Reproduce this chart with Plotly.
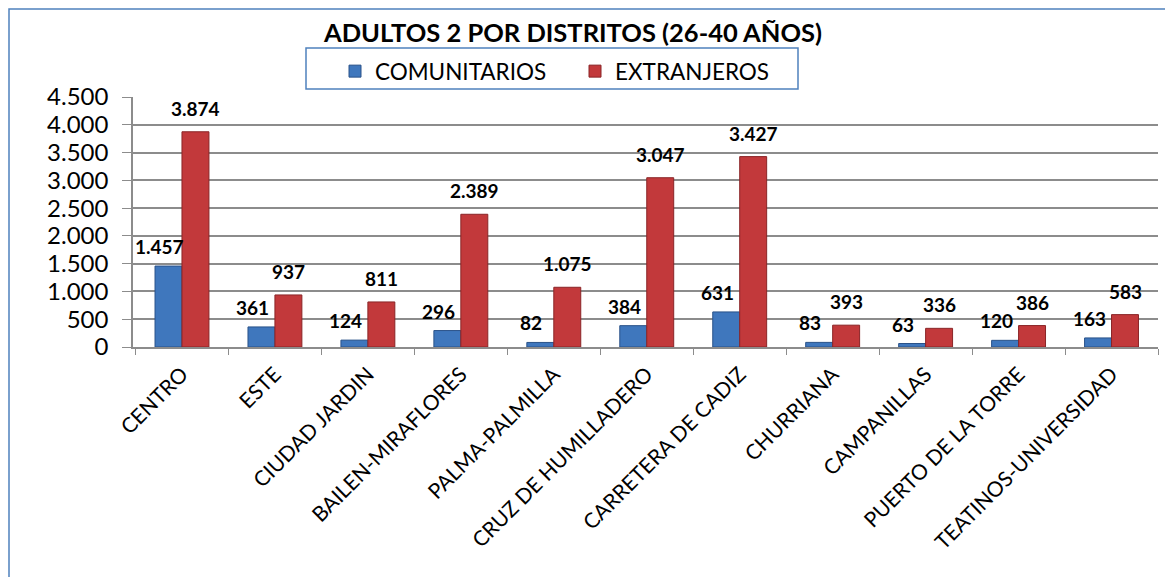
import plotly.graph_objects as go

districts = ["CENTRO", "ESTE", "CIUDAD JARDIN", "BAILEN-MIRAFLORES", "PALMA-PALMILLA",
             "CRUZ DE HUMILLADERO", "CARRETERA DE CADIZ", "CHURRIANA", "CAMPANILLAS",
             "PUERTO DE LA TORRE", "TEATINOS-UNIVERSIDAD"]
comunitarios = [1457, 361, 124, 296, 82, 384, 631, 83, 63, 120, 163]
extranjeros = [3874, 937, 811, 2389, 1075, 3047, 3427, 393, 336, 386, 583]
y_ticks = [0, 500, 1000, 1500, 2000, 2500, 3000, 3500, 4000, 4500]

FONT = "Lato"
BLUE = "#3f77bd"
RED = "#c2393b"
FRAME = "#4f81bd"

def fmt(v):
    return f"{v:,}".replace(",", ".")

fig = go.Figure()
fig.add_trace(go.Bar(x=districts, y=comunitarios, name="COMUNITARIOS",
                     marker=dict(color=BLUE, line=dict(color="#2a5289", width=1))))
fig.add_trace(go.Bar(x=districts, y=extranjeros, name="EXTRANJEROS",
                     marker=dict(color=RED, line=dict(color="#8a2527", width=1))))

W_BAR = 0.29
annotations = []
for i, (c, e) in enumerate(zip(comunitarios, extranjeros)):
    annotations.append(dict(x=i - W_BAR / 2, y=c, xref="x", yref="y", text=fmt(c),
                            showarrow=False, yanchor="bottom", yshift=6, xshift=-9,
                            font=dict(family=FONT, size=19, color="black", weight="bold")))
    annotations.append(dict(x=i + W_BAR / 2, y=e, xref="x", yref="y", text=fmt(e),
                            showarrow=False, yanchor="bottom", yshift=10,
                            font=dict(family=FONT, size=19, color="black", weight="bold")))

# page has an 8px body margin; work in screen pixels and convert
OFF = 8
FW, FH = 1173, 577
SL, SR, ST, SB = 133, 1158, 97, 347          # screen px of plot area
L, R, T, B = SL - OFF, FW - (SR - OFF), ST - OFF, FH - (SB - OFF)
PW, PH = FW - L - R, FH - T - B

def px_x(p):
    return (p - OFF - L) / PW

def px_y(p):
    return (FH - B - (p - OFF)) / PH

fig.update_layout(
    width=FW, height=FH,
    margin=dict(l=L, r=R, t=T, b=B, autoexpand=False),
    paper_bgcolor="white", plot_bgcolor="white",
    separators=",.",
    barmode="group", bargap=0.42, bargroupgap=0,
    font=dict(family=FONT, color="black"),
    title=dict(text="<b>ADULTOS 2 POR DISTRITOS (26-40 AÑOS)</b>",
               x=(573 - OFF) / FW, xref="container", xanchor="center",
               y=1 - (33 - OFF) / FH, yref="container", yanchor="middle",
               font=dict(family=FONT, size=25.5, color="black")),
    legend=dict(orientation="h", x=px_x(335), xanchor="left", y=px_y(50), yanchor="top",
                borderwidth=0, bgcolor="rgba(0,0,0,0)",
                font=dict(family=FONT, size=22.5, color="black"),
                entrywidth=195, itemwidth=30),
    annotations=annotations,
    shapes=[
        dict(type="rect", xref="paper", yref="paper",
             x0=px_x(OFF + 1), x1=px_x(1220), y0=px_y(620), y1=px_y(OFF + 1),
             line=dict(color=FRAME, width=1.5), layer="below"),
        dict(type="rect", xref="paper", yref="paper",
             x0=px_x(306), x1=px_x(798), y0=px_y(89), y1=px_y(48),
             line=dict(color=FRAME, width=1.5), layer="above"),
    ],
)
fig.update_yaxes(range=[0, 4500], tickvals=y_ticks, tickformat=",d", automargin=False,
                 showgrid=True, gridcolor="#8c8c8c", gridwidth=1.5,
                 showline=True, linecolor="#8c8c8c", linewidth=1.5,
                 ticks="outside", ticklen=9, tickcolor="#8c8c8c",
                 ticklabelstandoff=9,
                 tickfont=dict(family=FONT, size=24, color="black"), zeroline=False)
fig.update_xaxes(tickangle=-45, automargin=False, showline=True, linecolor="#8c8c8c", linewidth=1.5,
                 ticks="outside", ticklen=6, tickcolor="#8c8c8c", tickson="boundaries",
                 ticklabelstandoff=5,
                 tickfont=dict(family=FONT, size=21, color="black"))

fig.write_html("out.html")
